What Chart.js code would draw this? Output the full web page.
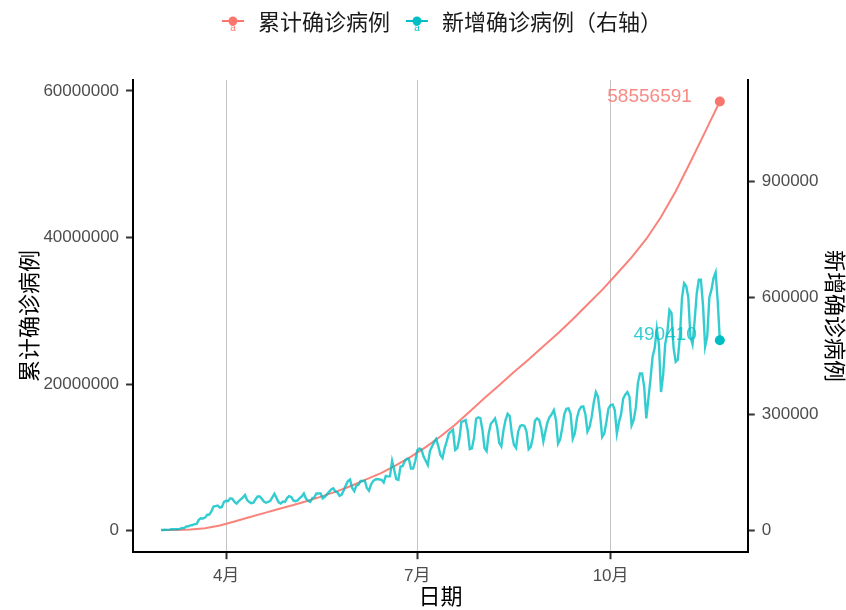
<!DOCTYPE html>
<html>
<head>
<meta charset="utf-8">
<script src="https://cdn.jsdelivr.net/npm/chart.js@4.4.0/dist/chart.umd.min.js"></script>
<style>
html,body{margin:0;padding:0;background:#fff;}
#wrap{width:846px;height:610px;}
</style>
</head>
<body>
<div id="wrap"><canvas id="c"></canvas></div>
<script>
// ---------------- data ----------------
const startDate = '2020-03-01';
const seriesNames = ['累计确诊病例', '新增确诊病例（右轴）'];
const axisTitles = { x: '日期', y: '累计确诊病例', y1: '新增确诊病例' };

// daily new confirmed cases (right axis), one value per day from 2020-03-01
const newMar = [1900, 2000, 2600, 2300, 2800, 3900, 4000, 3900, 3900, 4600, 7100, 6800, 10800, 11100, 13900, 14700, 17100, 17600, 28000, 32300, 31700, 33800, 41100, 41500, 49500, 62200, 63500, 64700, 59400, 61100, 74300];
const newApr = [77200, 76400, 83400, 82000, 74000, 70000, 76000, 81000, 86000, 92000, 79000, 74000, 71000, 72000, 81000, 88000, 88000, 82000, 75000, 72000, 74000, 77000, 86000, 95000, 84000, 73000, 70000, 75000, 74000, 84000];
const newMay = [89000, 87000, 78000, 76000, 78000, 84000, 88000, 96000, 83000, 77000, 74000, 84000, 86000, 96000, 96000, 96000, 83000, 87000, 94000, 100000, 106000, 109000, 101000, 99000, 90000, 93000, 104000, 117000, 128000, 132000, 110000];
const newJun = [102000, 116000, 118000, 128000, 128000, 129000, 110000, 103000, 119000, 128000, 132000, 133000, 132000, 131000, 124000, 141000, 140000, 140000, 180000, 157000, 133000, 131000, 165000, 166000, 179000, 185000, 185000, 160000, 160000, 178000];
const newJul = [207000, 212000, 209000, 191000, 180000, 169000, 205000, 217000, 228000, 236000, 218000, 195000, 187000, 212000, 230000, 250000, 255000, 260000, 208000, 212000, 236000, 280000, 282000, 285000, 258000, 210000, 212000, 239000, 288000, 292000, 290000];
const newAug = [260000, 213000, 205000, 251000, 275000, 282000, 289000, 267000, 226000, 217000, 258000, 285000, 301000, 295000, 250000, 221000, 213000, 255000, 270000, 272000, 270000, 255000, 210000, 216000, 240000, 283000, 289000, 285000, 264000, 230000, 256000];
const newSep = [280000, 293000, 300000, 310000, 285000, 224000, 235000, 265000, 300000, 314000, 315000, 300000, 237000, 251000, 290000, 310000, 319000, 320000, 300000, 255000, 267000, 293000, 330000, 357000, 345000, 300000, 241000, 250000, 280000, 315000];
const newOct = [323000, 325000, 310000, 250000, 280000, 300000, 340000, 350000, 357000, 345000, 271000, 285000, 316000, 380000, 405000, 405000, 370000, 289000, 340000, 390000, 448000, 470000, 520000, 480000, 357000, 400000, 480000, 510000, 568000, 560000, 470000];
const newNov = [435000, 440000, 500000, 600000, 637000, 630000, 600000, 500000, 480000, 540000, 610000, 646000, 646000, 580000, 474000, 500000, 600000, 620000, 650000, 665000, 590000, 490410];

// cumulative confirmed cases (left axis), weekly readings
const cumDates = ['2020-03-01','2020-03-08','2020-03-15','2020-03-22','2020-03-29','2020-04-05','2020-04-12','2020-04-19','2020-04-26','2020-05-03','2020-05-10','2020-05-17','2020-05-24','2020-05-31','2020-06-07','2020-06-14','2020-06-21','2020-06-28','2020-07-05','2020-07-12','2020-07-19','2020-07-26','2020-08-02','2020-08-09','2020-08-16','2020-08-23','2020-08-30','2020-09-06','2020-09-13','2020-09-20','2020-09-27','2020-10-04','2020-10-11','2020-10-18','2020-10-25','2020-11-01','2020-11-08','2020-11-15','2020-11-22'];
const cumCases = [88000, 110000, 168000, 337000, 722000, 1270000, 1850000, 2400000, 2970000, 3500000, 4100000, 4720000, 5400000, 6170000, 7040000, 7900000, 8950000, 10100000, 11400000, 12850000, 14450000, 16250000, 18100000, 19850000, 21650000, 23350000, 25150000, 26950000, 28850000, 30850000, 32850000, 35050000, 37300000, 39800000, 42800000, 46300000, 50300000, 54400000, 58556591];

const xTickDates = ['2020-04-01', '2020-07-01', '2020-10-01'];
const xTickLabels = ['4月', '7月', '10月'];
const leftTicks = [0, 20000000, 40000000, 60000000];
const rightTicks = [0, 300000, 600000, 900000];
const secAxisRatio = 53; // right axis = left axis / 53

// ---------------- build ----------------
const newCases = [].concat(newMar, newApr, newMay, newJun, newJul, newAug, newSep, newOct, newNov);
const dayIdx = s => (Date.parse(s) - Date.parse(startDate)) / 86400000;
const newData = newCases.map((v, i) => ({ x: i, y: v }));
const cumData = cumCases.map((v, i) => ({ x: dayIdx(cumDates[i]), y: v }));

const lastDay = newCases.length - 1;
const xMin = -0.05 * lastDay, xMax = lastDay * 1.05;
const cumMax = Math.max.apply(null, cumCases);
const yMin = -0.05 * cumMax, yMax = cumMax * 1.05;

const FONT = '"Liberation Sans", "Noto Sans CJK SC", Arial, sans-serif';
const RED = '#F8766D', TEAL = '#00BFC4';

function makeIcon(color) {
  const cv = document.createElement('canvas');
  cv.width = 28; cv.height = 22;
  const g = cv.getContext('2d');
  g.strokeStyle = color; g.lineWidth = 2;
  g.beginPath(); g.moveTo(3, 8); g.lineTo(25, 8); g.stroke();
  g.fillStyle = color;
  g.beginPath(); g.arc(14, 8, 4.5, 0, Math.PI * 2); g.fill();
  g.font = '10px ' + FONT; g.textAlign = 'center'; g.textBaseline = 'middle';
  g.fillText('a', 14, 15);
  return cv;
}
const icons = [makeIcon(RED), makeIcon(TEAL)];

const endOnly = r => c => (c.dataIndex === c.dataset.data.length - 1 ? r : 0);

const endLabels = {
  id: 'endLabels',
  afterDatasetsDraw(chart) {
    const ctx = chart.ctx;
    chart.data.datasets.forEach((ds, i) => {
      const meta = chart.getDatasetMeta(i);
      const pt = meta.data[meta.data.length - 1];
      const v = ds.data[ds.data.length - 1].y;
      ctx.save();
      ctx.font = '19px ' + FONT;
      ctx.fillStyle = ds.labelColor;
      ctx.textAlign = 'right';
      ctx.textBaseline = 'middle';
      ctx.fillText(String(v), pt.x - ds.labelOffset, pt.y - 5);
      ctx.restore();
    });
  }
};

const tickFont = { size: 17, family: FONT };
const titleFont = { size: 22, family: FONT };

new Chart(document.getElementById('c'), {
  type: 'line',
  data: {
    datasets: [
      {
        label: seriesNames[0], data: cumData, yAxisID: 'y',
        borderColor: 'rgba(248,118,109,0.9)', backgroundColor: RED, borderWidth: 2,
        pointRadius: endOnly(5), pointHoverRadius: 0, pointBackgroundColor: RED, pointBorderWidth: 0,
        tension: 0, order: 1, labelColor: 'rgba(248,118,109,0.85)', labelOffset: 28
      },
      {
        label: seriesNames[1], data: newData, yAxisID: 'y1',
        borderColor: 'rgba(0,191,196,0.8)', backgroundColor: TEAL, borderWidth: 2.4,
        pointRadius: endOnly(5), pointHoverRadius: 0, pointBackgroundColor: TEAL, pointBorderWidth: 0,
        tension: 0, order: 0, labelColor: 'rgba(0,191,196,0.8)', labelOffset: 23
      }
    ]
  },
  options: {
    responsive: true, maintainAspectRatio: false, animation: false, devicePixelRatio: 1,
    layout: { padding: { left: 14, right: 0, top: 0, bottom: 0 } },
    plugins: {
      tooltip: { enabled: false },
      legend: {
        position: 'top', weight: 3000, fullSize: false,
        labels: {
          usePointStyle: true, pointStyleWidth: 28, padding: 13,
          font: { size: 22, family: FONT }, color: '#1a1a1a',
          sort: (a, b) => a.datasetIndex - b.datasetIndex,
          generateLabels: chart => {
            const items = Chart.defaults.plugins.legend.labels.generateLabels(chart);
            items.forEach(it => { it.pointStyle = icons[it.datasetIndex]; });
            return items;
          }
        }
      },
      title: { display: true, text: '', font: { size: 10, lineHeight: 1 }, padding: { top: 0, bottom: 25 } }
    },
    scales: {
      x: {
        type: 'linear', min: xMin, max: xMax,
        afterBuildTicks: s => { s.ticks = xTickDates.map(d => ({ value: dayIdx(d) })); },
        ticks: {
          callback: v => { const k = xTickDates.findIndex(d => dayIdx(d) === v); return k >= 0 ? xTickLabels[k] : ''; },
          font: tickFont, color: '#4d4d4d', padding: 7, maxRotation: 0, autoSkip: false
        },
        grid: { display: true, drawOnChartArea: true, color: '#c4c4c4', lineWidth: 1, tickLength: 7, tickColor: '#333', tickWidth: 2 },
        border: { display: true, color: '#000', width: 2 },
        title: { display: true, text: axisTitles.x, font: titleFont, color: '#000', padding: { top: -9, bottom: -1 } }
      },
      y: {
        position: 'left', min: yMin, max: yMax,
        afterBuildTicks: s => { s.ticks = leftTicks.map(v => ({ value: v })); },
        ticks: { callback: v => String(v), font: tickFont, color: '#4d4d4d', padding: 7 },
        grid: { display: true, drawOnChartArea: false, tickLength: 7, tickColor: '#333', tickWidth: 2 },
        border: { display: true, color: '#000', width: 2 },
        title: { display: true, text: axisTitles.y, font: titleFont, color: '#000', padding: { top: 4, bottom: -8 } }
      },
      y1: {
        position: 'right', min: yMin / secAxisRatio, max: yMax / secAxisRatio,
        afterBuildTicks: s => { s.ticks = rightTicks.map(v => ({ value: v })); },
        ticks: { callback: v => String(v), font: tickFont, color: '#4d4d4d', padding: 7 },
        grid: { display: true, drawOnChartArea: false, tickLength: 7, tickColor: '#333', tickWidth: 2 },
        border: { display: true, color: '#000', width: 2 },
        title: { display: true, text: axisTitles.y1, font: titleFont, color: '#000', padding: { top: 0, bottom: -5.9 } }
      }
    }
  },
  plugins: [endLabels]
});
</script>
</body>
</html>
